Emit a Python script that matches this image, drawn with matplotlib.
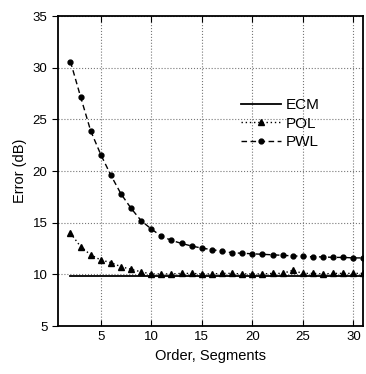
import matplotlib.pyplot as plt

plt.rcParams["font.family"] = ["Liberation Sans", "DejaVu Sans"]

order = list(range(2, 32))
ecm = [9.85] * len(order)
pol = [14.0, 12.7, 11.9, 11.4, 11.15, 10.75, 10.5, 10.25, 10.05, 10.05,
       10.05, 10.1, 10.1, 10.05, 10.05, 10.1, 10.1, 10.05, 10.05, 10.05,
       10.1, 10.1, 10.4, 10.1, 10.1, 10.05, 10.1, 10.1, 10.1, 10.1]
pwl = [30.6, 27.2, 23.9, 21.6, 19.6, 17.8, 16.4, 15.2, 14.4, 13.7,
       13.3, 13.0, 12.75, 12.55, 12.4, 12.25, 12.1, 12.05, 12.0, 11.95,
       11.9, 11.85, 11.8, 11.75, 11.7, 11.7, 11.65, 11.65, 11.6, 11.6]

fig = plt.figure(figsize=(3.66, 3.74), dpi=100)
ax = fig.add_axes([0.158, 0.128, 0.835, 0.829])

ax.plot(order, ecm, color="black", lw=1.3, ls="-", label="ECM")
ax.plot(order, pol, color="black", lw=1.0, ls=(0, (1, 2)), marker="^",
        ms=4.5, label="POL")
ax.plot(order, pwl, color="black", lw=1.0, ls=(0, (4, 2.5)), marker="o",
        ms=3.5, label="PWL")

ax.set_xlim(0.75, 31)
ax.set_ylim(5, 35)
ax.set_xticks([5, 10, 15, 20, 25, 30])
ax.set_yticks([5, 10, 15, 20, 25, 30, 35])
ax.grid(ls=":", lw=0.8, color="#777777")
ax.tick_params(axis="y", direction="out", labelsize=9.5, length=4)
ax.tick_params(axis="x", direction="in", top=True, labelsize=9.5, length=4)
for s in ax.spines.values():
    s.set_linewidth(1.3)

ax.set_xlabel("Order, Segments", fontsize=10.5)
ax.set_ylabel("Error (dB)", fontsize=10.5)

ax.legend(loc="upper left", bbox_to_anchor=(0.555, 0.78), frameon=False,
          fontsize=11, handlelength=2.6, labelspacing=0.3, handletextpad=0.3)

plt.savefig("out.png", dpi=100)
